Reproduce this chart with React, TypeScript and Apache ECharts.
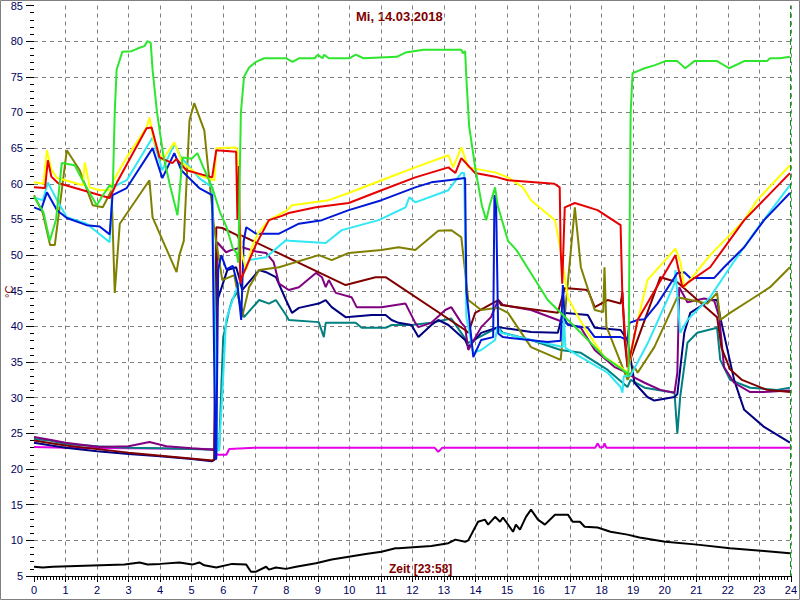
import React, { useEffect, useRef } from "react";
import * as echarts from "echarts";

const titleText = "Mi, 14.03.2018";
const timeLabel = "Zeit [23:58]";
const unitLabel = "°C";
const nowHour = 23.97;

const greenData = [[0,58.2],[0.3,56],[0.5,52],[0.7,55],[0.88,62.9],[1.29,62.6],[1.6,60],[1.99,57],[2.2,58.5],[2.4,59.8],[2.5,59.5],[2.56,70],[2.62,76],[2.8,78.5],[3.1,78.6],[3.3,79],[3.5,79.3],[3.6,80],[3.7,79.8],[3.76,76],[3.9,70],[4.1,64],[4.3,60],[4.55,55.6],[4.71,63.7],[5.0,63.5],[5.18,64.3],[5.4,62],[5.65,59.5],[5.9,56],[6.1,54],[6.3,51],[6.42,50.3],[6.48,48.9],[6.52,60],[6.56,70],[6.66,75],[6.82,76.3],[7.04,77.1],[7.3,77.6],[8.0,77.6],[8.2,77.1],[8.4,77.6],[8.9,77.6],[9.0,78.1],[9.15,77.6],[9.2,78.1],[9.35,77.6],[10.0,77.6],[10.2,78.1],[10.45,77.6],[11.5,77.8],[11.78,78.4],[12.35,78.8],[13.55,78.8],[13.6,78.3],[13.67,78.6],[13.72,74],[13.8,68],[14.0,62],[14.2,57],[14.34,54.9],[14.45,57],[14.62,59.5],[14.7,57],[15.03,52],[15.3,50.7],[16.29,43.7],[17.34,39.1],[18.09,35.7],[18.8,33.5],[18.85,33],[18.88,50],[18.92,70],[18.98,75.5],[19.14,75.8],[19.36,76.2],[19.67,76.6],[20.02,77.2],[20.4,77.2],[20.65,76.2],[20.94,77.2],[21.66,77.2],[22.04,76.2],[22.52,77.2],[23.24,77.2],[23.34,77.6],[23.65,77.6],[23.97,77.8]];

const yellowData = [[0,60.2],[0.3,60],[0.41,64.7],[0.55,62],[0.73,60.8],[1.0,60.5],[1.55,59.8],[1.61,63],[1.77,59.5],[2.08,59.1],[2.4,59.1],[2.49,60.2],[2.94,63.7],[3.57,67.9],[3.66,69.3],[3.8,66],[4.07,63.3],[4.45,65.8],[4.71,62.9],[5.24,61.2],[5.72,60.5],[5.78,65],[6.41,65.1],[6.45,64.5],[6.5,55],[6.6,50],[6.73,47.9],[6.9,51],[7.1,53],[7.45,54.9],[7.86,55.9],[8.0,56.2],[8.18,57],[9.35,57.7],[9.98,58.7],[11.02,60.5],[12.09,62.3],[13.14,64],[13.29,62.3],[13.55,65.1],[13.77,62.3],[14.62,61.6],[15.03,60.9],[15.5,59.5],[15.76,57.7],[16.52,54.9],[16.7,50.7],[16.93,44],[17.3,41],[17.56,39.1],[18.09,35.7],[18.6,34.3],[18.82,33.5],[19.1,40],[19.45,46.5],[20.34,50.9],[20.5,49],[20.62,45.5],[21.44,50],[22.52,54.9],[22.93,57.7],[23.97,62.6]];

const redData = [[0,59.5],[0.35,59.4],[0.44,63.3],[0.55,61],[0.76,60.1],[1.55,59.1],[2.4,58],[2.62,60.1],[3.57,67.8],[3.73,67.9],[3.98,63.7],[4.39,62.9],[4.52,63.5],[4.83,61.9],[5.65,60.9],[5.78,64.7],[6.41,64.5],[6.45,55],[6.5,62.5],[6.54,46],[6.6,47],[6.73,48.3],[7.04,51.5],[7.45,54.9],[7.86,55.5],[8.08,55.9],[8.94,56.7],[9.98,57.3],[11.02,59.1],[12.09,60.9],[13.14,62.3],[13.36,61.5],[13.55,63.6],[13.99,61.5],[14.62,61],[15.03,60.5],[16.5,60],[16.67,59.5],[16.7,50.7],[16.75,46],[16.83,56.7],[17.15,57.3],[17.87,56.3],[18.6,54.2],[18.66,43.7],[18.82,34.3],[18.88,35.3],[19.14,40.9],[20.34,50],[20.56,45.5],[20.72,46.1],[21.44,48.3],[22.52,54.9],[23.97,61.5]];

const cyanData = [[0,58.1],[0.28,57.7],[0.44,60.2],[0.73,57.7],[1.04,55.3],[1.67,54.4],[2.4,51.8],[2.49,59.5],[2.94,60.5],[3.76,66.5],[4.07,61.9],[4.45,65.6],[4.67,63.7],[5.24,60.8],[5.65,59.5],[5.72,45],[5.81,22.5],[5.87,22.7],[6.0,33],[6.09,40.9],[6.35,44.4],[6.82,49.3],[7.36,49.7],[7.99,52.1],[8.1,52],[9.25,51.7],[9.76,53.5],[10.93,54.9],[11.78,56.7],[11.9,58.1],[12.09,57.4],[13.14,59.1],[13.55,61.5],[13.64,61.5],[13.71,41.3],[13.93,36.3],[14.18,36.7],[14.62,38.1],[14.7,40],[14.81,39.1],[15.76,38.1],[16.77,37.1],[16.8,42],[16.85,37],[17.34,35.7],[18.19,33.5],[18.6,31.5],[18.66,30.7],[18.7,33],[18.92,33.1],[19.5,38],[20.31,46],[20.34,47.9],[20.49,39.1],[20.72,40.9],[21.44,44.1],[22.07,48.3],[22.83,53.1],[23.97,59.8]];

const blueData = [[0,56.7],[0.22,56.3],[0.41,58.8],[0.73,56.3],[1.04,55.2],[1.67,54.2],[2.08,54],[2.4,52.9],[2.49,58.4],[2.94,59.4],[3.76,65],[4.07,60.8],[4.45,64.3],[4.67,61.9],[5.24,59.4],[5.65,58.4],[5.7,40],[5.75,21.3],[5.78,21.5],[5.84,48],[5.94,50],[6.1,48],[6.3,48.5],[6.45,46],[6.57,40.9],[6.65,52],[6.73,53.9],[7.04,53],[7.77,53],[8.4,54.4],[9.13,54.9],[9.98,56.3],[11.02,57.7],[12.09,59.5],[12.6,60.2],[13.14,60.5],[13.67,60.8],[13.71,45],[13.93,35.7],[14.18,38.1],[14.56,38.5],[14.6,58.4],[14.65,58],[14.72,39],[14.87,38.5],[16.29,37.8],[16.7,38],[16.77,45.8],[16.83,41],[16.93,40.2],[17.56,39.8],[17.78,38.5],[18.6,38.5],[18.82,38.1],[18.88,40.5],[19.14,40.9],[19.36,41],[19.77,43.2],[20.4,47.5],[20.62,47.6],[20.81,46.8],[21.57,46.8],[21.88,48.3],[22.52,51.1],[23.15,54.9],[23.97,58.7]];

const oliveData = [[0,58.4],[0.28,55.9],[0.51,51.4],[0.66,51.4],[1.04,64.7],[1.45,61.9],[1.86,57],[2.18,56.7],[2.46,59.1],[2.56,44.7],[2.72,54.4],[3.66,60.5],[3.76,55.3],[4.52,47.6],[4.61,50],[4.75,52],[4.93,68.9],[5.08,71.3],[5.4,67.5],[5.72,53.5],[5.87,49.3],[5.97,46.5],[6.35,47.2],[6.6,41.3],[6.82,45.5],[7.14,47.9],[7.77,48.3],[9.03,50],[9.44,49.3],[9.98,50.3],[11.02,50.7],[11.56,51.1],[12.09,50.7],[12.82,53.4],[13.23,53.5],[13.55,52.5],[13.77,43.7],[14.18,42.3],[14.72,42.6],[15.03,41.9],[15.76,37.1],[16.7,35.3],[17.15,56.7],[17.34,48.3],[17.78,42.3],[18.05,42],[18.09,48.3],[18.15,40],[18.82,32.5],[19.04,34.3],[19.14,33.5],[19.67,37.1],[20.4,44.1],[21.35,43.2],[21.66,44.7],[21.76,40.9],[22.07,41.9],[22.71,43.7],[23.34,45.5],[23.97,48.3]];

const maroonData = [[0,24],[1,23.3],[3,22.3],[5.65,21.2],[5.72,21.3],[5.78,53.9],[5.97,53.8],[6.44,52.8],[6.5,52.3],[6.55,52.8],[9.88,45.8],[10.83,46.9],[11.15,46.9],[13.67,39.5],[13.77,39.1],[13.99,41.9],[14.72,43.7],[14.81,43],[16.61,41.9],[16.83,45.4],[17.56,45.1],[17.78,42.7],[18.19,43.7],[18.6,43.2],[18.66,44.8],[18.73,38],[18.82,34.3],[19.86,46.9],[20.4,46.2],[21.66,41.3],[21.8,37],[22.07,34],[22.45,32.5],[23.24,31.1],[23.97,30.8]];

const purpleData = [[0,24.5],[0.5,24.1],[1.0,23.7],[2.08,23.1],[3.0,23.2],[3.66,23.8],[4.2,23.2],[5.0,22.9],[5.65,22.7],[5.72,22.8],[5.81,51.8],[6.09,50.4],[6.25,50.7],[6.6,51.1],[7.04,50.5],[7.36,50.3],[7.6,49],[7.77,46],[8.08,45.1],[8.4,45.5],[8.94,47.5],[9.13,46.9],[9.25,45.5],[9.35,46.5],[9.57,44.7],[10.07,44.1],[10.23,42.7],[11.02,42.7],[11.78,43.2],[12.09,40.5],[12.19,39.9],[12.6,40.5],[13.04,42.3],[13.23,42.7],[13.55,40.5],[13.67,39.9],[13.77,36.7],[14.18,39.9],[14.49,41.3],[14.72,43.7],[14.87,43],[15.76,42.3],[16.61,40.9],[16.83,40.5],[17.34,39.8],[17.78,36.7],[18.41,34.3],[18.82,33.5],[18.92,33.1],[19.36,32.1],[19.86,31.1],[20.31,30.7],[20.4,33.5],[20.46,45.5],[20.72,43.4],[21.25,43.9],[21.57,43.6],[21.73,41.3],[21.88,34.3],[22.2,32.1],[22.71,30.8],[23.15,30.8],[23.97,31]];

const navyData = [[0,23.7],[1,23],[2,22.5],[3,22.1],[4,21.8],[5,21.4],[5.65,21.1],[5.72,21.3],[5.78,42],[5.84,44],[6.13,47.9],[6.41,48.3],[6.51,46.8],[6.6,45.1],[7.14,47.9],[7.36,47.6],[7.67,46.9],[7.99,43.7],[8.18,41.9],[8.4,42.6],[9.03,43.2],[9.25,43.7],[9.44,42.7],[9.88,41.3],[10.71,41.6],[11.15,41.6],[11.34,40.9],[11.56,40.5],[11.97,40.2],[12.19,38.5],[12.6,40.2],[12.82,40.9],[13.14,40.2],[13.67,38.1],[13.77,37.1],[14.18,39.1],[14.72,39.9],[15.76,39.2],[16.61,39.1],[16.77,41.9],[17.56,41.6],[17.78,39.8],[18.6,39.5],[18.82,38.1],[19.04,32.1],[19.45,30.1],[19.67,29.6],[20.31,30.1],[20.4,30.5],[20.62,39.1],[20.81,41.9],[21.44,43.7],[21.66,43.7],[21.76,41.3],[22.2,32.5],[22.52,28.3],[23.15,25.9],[23.97,23.7]];

const tealData = [[0,24.2],[0.5,24],[1.0,23.5],[2.0,23.2],[3.0,23.0],[4.0,22.9],[5.0,22.8],[5.72,22.7],[5.87,22.7],[5.94,31.5],[6.0,38.5],[6.19,42.3],[6.28,43.7],[6.44,44.8],[6.66,41.3],[7.14,43.7],[7.45,43.2],[7.67,43.7],[7.99,41.6],[8.08,40.9],[9.03,40.6],[9.19,38.5],[9.25,40.5],[10.2,40.5],[10.39,39.8],[11.15,39.8],[11.34,40.2],[11.97,40.2],[12.6,40.5],[13.23,41.1],[13.77,37.7],[14.72,39.9],[14.87,39.1],[15.76,38.1],[16.7,36.7],[17.34,36.3],[18.19,33.9],[18.82,31.5],[18.92,32.5],[19.36,31.4],[20.31,30.7],[20.4,25],[20.49,30.1],[20.72,37.7],[21.03,39.1],[21.66,39.8],[21.76,35.3],[22.07,32.5],[22.71,31.4],[23.56,31.1],[23.97,31.4]];

const magentaData = [[0,23.1],[1,23],[3,22.9],[5.65,22.8],[5.75,22.5],[5.81,22],[6.1,22],[6.19,22.8],[7,23],[12.7,23],[12.82,22.4],[12.95,23],[17.8,23],[17.87,23.6],[17.95,23],[18.05,23.1],[18.09,23.6],[18.15,23],[23.97,23]];

const blackData = [[0,6.3],[0.28,6.2],[0.6,6.3],[2.87,6.6],[3.35,6.9],[3.6,6.6],[4.0,6.7],[4.61,6.9],[5.02,6.6],[5.24,6.9],[5.4,6.5],[5.78,6.2],[6.28,6.7],[6.73,6.6],[6.88,5.6],[7.04,5.6],[7.36,6.3],[7.45,5.9],[7.67,6.2],[7.99,6],[8.31,6.3],[8.94,6.8],[9.44,7.3],[9.98,7.7],[10.52,8.1],[11.02,8.4],[11.46,8.9],[11.56,8.9],[12.6,9.2],[13.14,9.6],[13.36,10.1],[13.67,9.8],[13.77,10],[14.08,12.6],[14.3,12.9],[14.4,12.2],[14.62,13.3],[14.78,12.6],[14.87,13.2],[14.97,12.6],[15.19,11.2],[15.28,12.2],[15.41,11.5],[15.6,13.3],[15.76,14.3],[15.98,12.9],[16.2,12.2],[16.52,13.6],[16.93,13.6],[17.08,12.6],[17.31,12.6],[17.46,11.9],[17.87,11.8],[18.28,11.2],[18.82,10.8],[19.2,10.4],[20.02,9.8],[21.03,9.4],[22.07,8.9],[23.15,8.5],[23.97,8.2]];

const seriesList = [
  { name: "Aussen", color: "#000000", data: blackData },
  { name: "Magenta", color: "#e600e6", data: magentaData },
  { name: "Teal", color: "#008080", data: tealData },
  { name: "Navy", color: "#000080", data: navyData },
  { name: "Purple", color: "#800080", data: purpleData },
  { name: "Maroon", color: "#800000", data: maroonData },
  { name: "Olive", color: "#808000", data: oliveData },
  { name: "Cyan", color: "#30e8f5", data: cyanData },
  { name: "Blue", color: "#0018d8", data: blueData },
  { name: "Yellow", color: "#ffff00", data: yellowData },
  { name: "Red", color: "#e80000", data: redData },
  { name: "Green", color: "#2ee62e", data: greenData },
];

const FONT = "'Liberation Sans', Arial, sans-serif";

export default function App() {
  const ref = useRef<HTMLDivElement>(null);
  useEffect(() => {
    if (!ref.current) return;
    const chart = echarts.init(ref.current, undefined, { renderer: "svg" });
    const series: any[] = seriesList.map((s) => ({
      name: s.name,
      type: "line",
      data: s.data,
      showSymbol: false,
      symbol: "none",
      lineStyle: { color: s.color, width: 2 },
      itemStyle: { color: s.color },
      z: 3,
    }));
    series[0].markLine = {
      silent: true,
      symbol: "none",
      label: { show: false },
      lineStyle: { color: "#00a000", type: [6, 3], width: 1 },
      data: [{ xAxis: nowHour }],
    };
    chart.setOption({
      animation: false,
      backgroundColor: "#ffffff",
      grid: { left: 34, right: 6, top: 5, bottom: 24, containLabel: false },
      xAxis: {
        type: "value",
        min: 0,
        max: 24,
        interval: 1,
        axisLine: { show: true, lineStyle: { color: "#000000", width: 1 } },
        axisTick: { show: true, length: 6, lineStyle: { color: "#000000" } },
        minorTick: { show: true, splitNumber: 10, length: 4, lineStyle: { color: "#000000" } },
        axisLabel: { color: "#000060", fontSize: 11, fontFamily: FONT, margin: 8 },
        splitLine: { show: true, showMinLine: false, lineStyle: { color: "#808080", type: [4, 4], width: 1 } },
      },
      yAxis: {
        type: "value",
        min: 5,
        max: 85,
        interval: 5,
        axisLine: { show: false },
        axisTick: { show: true, length: 8, lineStyle: { color: "#000000" } },
        minorTick: { show: true, splitNumber: 5, length: 4, lineStyle: { color: "#000000" } },
        axisLabel: { color: "#000060", fontSize: 11, fontFamily: FONT, margin: 11 },
        splitLine: { show: true, showMaxLine: false, lineStyle: { color: "#808080", type: [4, 4], width: 1 } },
      },
      graphic: [
        {
          type: "rect",
          silent: true,
          shape: { x: 0.5, y: 0.5, width: 799, height: 599 },
          style: { fill: "none", stroke: "#808080", lineWidth: 1 },
          z: 100,
        },
        {
          type: "text",
          left: 400 - 44,
          top: 10,
          style: { text: titleText, fill: "#800000", font: `bold 13px ${FONT}` },
        },
        {
          type: "text",
          left: 389,
          top: 563,
          style: { text: timeLabel, fill: "#800000", font: `bold 12px ${FONT}` },
        },
        {
          type: "text",
          x: 3,
          y: 298,
          rotation: Math.PI / 2,
          style: { text: unitLabel, fill: "#800000", font: `11px ${FONT}` },
        },
      ],
      series,
    });
    return () => chart.dispose();
  }, []);
  return (
    <div
      ref={ref}
      style={{ position: "absolute", left: 0, top: 0, width: 800, height: 600 }}
    />
  );
}
